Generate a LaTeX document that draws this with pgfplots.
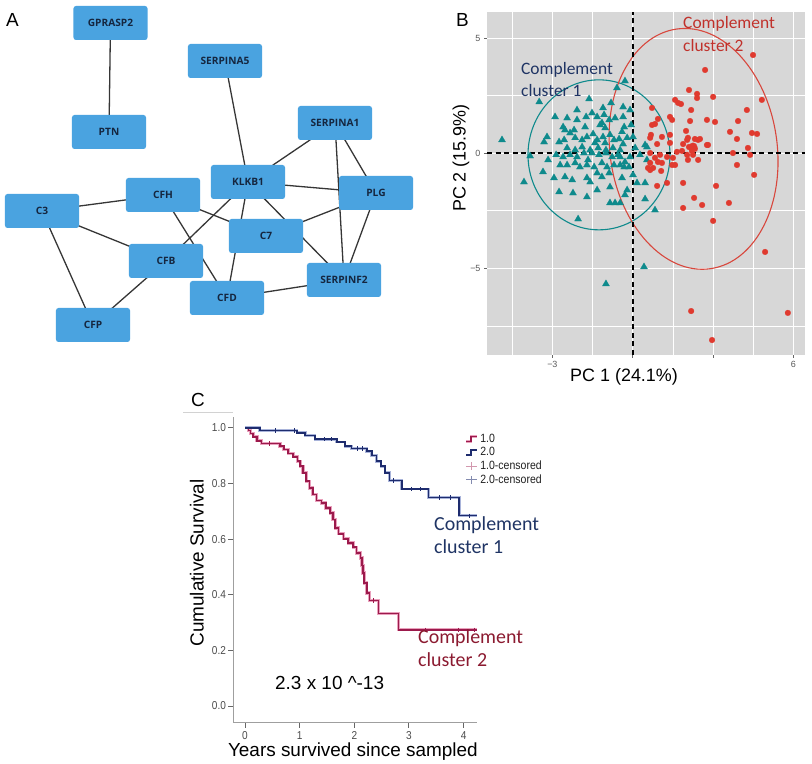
\documentclass[border=0pt]{standalone}
\usepackage{pgfplots}
\pgfplotsset{compat=1.18}
\usepackage{fontspec}
\setmainfont{Liberation Sans}
\newfontfamily\calfont{Carlito}
\newfontfamily\nodefont{Open Sans}
\newfontfamily\narrowfont{Liberation Sans}[FakeStretch=0.88]
\definecolor{nodeblue}{HTML}{4AA3E0}
\definecolor{nodetext}{HTML}{15263F}
\definecolor{edgegray}{HTML}{363636}
\definecolor{teal1}{HTML}{0E8A8C}
\definecolor{red1}{HTML}{E03A2F}
\definecolor{redell}{HTML}{D8473D}
\definecolor{panelgray}{HTML}{D7D7D7}
\definecolor{navy1}{HTML}{1F3464}
\definecolor{maroon1}{HTML}{8B1A30}
\definecolor{kmred}{HTML}{9C1A4C}
\definecolor{kmredhalo}{HTML}{E9A0BC}
\definecolor{kmblue}{HTML}{1E2C6E}
\definecolor{kmbluehalo}{HTML}{A9B4DA}
\definecolor{labred}{HTML}{C0312B}
\pgfplotsset{
  edge/.style={edgegray, line width=1.3bp, forget plot},
  kmredleg/.style={legend image code/.code={
    \draw[kmredhalo, line width=2.6bp] (0bp,-2.5bp) -- (5bp,-2.5bp) -- (5bp,2.5bp) -- (11bp,2.5bp);
    \draw[kmred, line width=1.3bp] (0bp,-2.5bp) -- (5bp,-2.5bp) -- (5bp,2.5bp) -- (11bp,2.5bp);}},
  kmblueleg/.style={legend image code/.code={
    \draw[kmbluehalo, line width=2.6bp] (0bp,-2.5bp) -- (5bp,-2.5bp) -- (5bp,2.5bp) -- (11bp,2.5bp);
    \draw[kmblue, line width=1.3bp] (0bp,-2.5bp) -- (5bp,-2.5bp) -- (5bp,2.5bp) -- (11bp,2.5bp);}},
  kmredcens/.style={legend image code/.code={
    \draw[kmred!45, line width=0.8bp] (0bp,0bp) -- (11bp,0bp);
    \draw[kmred!45, line width=0.8bp] (5.5bp,-4bp) -- (5.5bp,4bp);}},
  kmbluecens/.style={legend image code/.code={
    \draw[kmblue!55, line width=0.8bp] (0bp,0bp) -- (11bp,0bp);
    \draw[kmblue!55, line width=0.8bp] (5.5bp,-4bp) -- (5.5bp,4bp);}},
}
\begin{document}
\begin{tikzpicture}
\path (0bp,0bp) rectangle (812bp,763bp);
%================ Panel A =================
\begin{axis}[at={(0bp,413bp)}, anchor=south west, scale only axis,
  width=420bp, height=350bp, xmin=0, xmax=420, ymin=0, ymax=350,
  y dir=reverse, axis lines=none, clip=false]
\addplot[edge] coordinates {(110.5,23) (109,132)};
\addplot[edge] coordinates {(225,61) (248,182)};
\addplot[edge] coordinates {(335,123) (248,182)};
\addplot[edge] coordinates {(335,123) (376,193)};
\addplot[edge] coordinates {(335,123) (344,280)};
\addplot[edge] coordinates {(248,182) (376,193)};
\addplot[edge] coordinates {(248,182) (227,298)};
\addplot[edge] coordinates {(248,182) (344,280)};
\addplot[edge] coordinates {(248,182) (166,261)};
\addplot[edge] coordinates {(163,195) (266,236)};
\addplot[edge] coordinates {(163,195) (227,298)};
\addplot[edge] coordinates {(42,211) (163,195)};
\addplot[edge] coordinates {(42,211) (166,261)};
\addplot[edge] coordinates {(42,211) (93,325)};
\addplot[edge] coordinates {(166,261) (93,325)};
\addplot[edge] coordinates {(376,193) (266,236)};
\addplot[edge] coordinates {(376,193) (344,280)};
\addplot[edge] coordinates {(227,298) (344,280)};
\addplot[only marks, mark=none, nodes near coords, point meta=explicit symbolic,
  nodes near coords style={anchor=center, rectangle, rounded corners=2.5bp,
    fill=nodeblue, minimum width=74bp, minimum height=34bp, text=nodetext,
    font=\nodefont\bfseries\fontsize{10.2}{11}\selectfont}]
  table[meta=label]{
x y label
110.5 23 GPRASP2
225 61 SERPINA5
109 132 PTN
335 123 SERPINA1
248 182 KLKB1
376 193 PLG
163 195 CFH
42 211 C3
266 236 C7
166 261 CFB
344 280 SERPINF2
227 298 CFD
93 325 CFP
};
\end{axis}
\node[anchor=base west, inner sep=0pt, font=\fontsize{19}{20}\selectfont] at (6bp,736bp) {A};
%================ Panel B =================
\begin{axis}[at={(487bp,408bp)}, anchor=south west, scale only axis,
  width=318bp, height=343bp,
  xmin=-5.44, xmax=6.43, ymin=-8.77, ymax=6.14,
  axis background/.style={fill=panelgray},
  axis line style={draw=none},
  xtick={-3,0,3,6}, xticklabels={{−3},{},{},6},
  ytick={-5,0,5}, yticklabels={{−5},0,5},
  minor xtick={-4.5,-1.5,1.5,4.5}, minor ytick={-7.5,-2.5,2.5},
  grid=both, major grid style={white, line width=1.1bp},
  minor grid style={white, line width=0.5bp},
  tick align=outside, major tick length=3bp, minor tick length=0pt,
  tick style={gray!80!black, line width=0.5bp},
  xtick pos=bottom, ytick pos=left,
  ticklabel style={font=\fontsize{9}{10}\selectfont, text=gray!70!black},
  xlabel={PC 1 (24.1\%)}, ylabel={PC 2 (15.9\%)},
  label style={font=\fontsize{18}{20}\selectfont},
  xlabel style={at={(axis description cs:0.431,-0.064)}, anchor=center},
  ylabel style={at={(axis description cs:-0.082,0.574)}, anchor=center, rotate=0},
]
\addplot[only marks, mark=triangle*, mark size=4.1bp, mark options={fill=teal1, draw=teal1, line width=0.2bp}] table {
x y
-0.29 3.14
-0.59 2.84
-1.63 2.36
-3.49 2.23
-1.11 1.97
-0.81 2.19
-0.36 2.01
-0.10 1.88
-2.08 1.88
-2.90 1.58
-2.45 1.53
-2.08 1.45
-1.74 1.58
-1.52 1.75
-1.33 1.58
-1.07 1.67
-0.88 1.45
-0.66 1.53
-0.36 1.58
-0.06 1.23
-1.15 1.32
-2.60 1.14
-2.53 1.01
-2.19 1.01
-1.78 1.14
-1.22 1.23
-1.03 1.10
-0.32 1.14
-0.40 0.93
-4.88 0.58
-3.20 0.71
-3.31 0.49
-2.75 0.49
-2.56 0.58
-2.34 0.88
-2.15 0.67
-1.89 0.58
-1.71 0.71
-1.48 0.84
-1.33 0.58
-1.11 0.71
-1.03 0.45
-0.85 0.80
-0.70 0.58
-0.51 0.62
-0.36 0.40
-0.21 0.67
0.01 0.71
0.46 0.36
0.53 0.27
-3.83 -0.12
-2.86 -0.07
-2.60 -0.16
-2.34 -0.07
-2.08 -0.16
-1.82 0.01
-1.52 0.01
-1.26 -0.07
-1.00 0.01
-0.77 -0.16
-0.55 -0.07
-2.45 0.23
-2.15 0.14
-1.89 0.27
-1.59 0.14
-1.29 0.23
-1.00 0.14
-0.74 0.23
-0.47 0.14
-2.45 -0.51
-2.15 -0.42
-1.97 -0.60
-1.71 -0.51
-1.44 -0.60
-1.15 -0.42
-0.96 -0.60
-0.70 -0.51
-0.47 -0.51
-0.32 -0.60
-0.14 -0.60
-3.35 -0.81
-4.06 -1.25
-2.94 -1.07
-2.53 -1.03
-2.26 -1.16
-1.71 -1.07
-1.59 -1.25
-1.33 -0.86
-1.15 -1.03
-0.88 -0.86
-0.40 -1.07
-2.75 -1.68
-2.23 -1.73
-1.71 -1.90
-1.33 -1.60
-0.85 -1.47
-0.21 -1.60
-0.85 -2.16
-0.66 -2.16
-0.47 -2.16
-2.04 -2.86
0.42 -4.94
-1.00 -5.68
0.83 -2.47
0.46 -1.99
0.16 -1.29
0.46 -1.29
-0.29 -1.81
0.01 -0.94
0.53 -0.29
-0.29 -0.38
-0.47 -0.16
-1.41 0.45
-1.67 -0.29
-2.71 -0.51
-3.16 -0.29
0.27 -0.07
0.09 0.23
-0.10 -0.16
};
\addplot[only marks, mark=*, mark size=2.9bp, mark options={fill=red1, draw=red1, line width=0.2bp}] table {
x y
4.49 4.27
2.70 3.62
4.82 2.32
2.10 2.75
2.40 2.58
2.40 2.40
3.00 2.45
1.58 2.32
1.69 2.19
1.80 2.14
2.18 1.88
4.26 1.88
0.72 1.97
1.39 1.58
1.47 1.45
0.94 1.49
2.14 1.40
2.77 1.45
3.07 1.36
3.93 1.40
0.72 1.23
0.83 1.27
1.99 0.97
3.63 0.93
4.45 0.88
4.64 0.84
3.89 0.62
0.68 0.80
0.65 0.67
1.09 0.71
1.39 0.80
2.06 0.67
2.32 0.62
2.51 0.62
2.81 0.36
1.88 0.40
2.10 0.27
2.25 0.27
2.32 0.19
2.21 0.10
4.30 0.23
1.65 0.06
1.84 0.10
3.74 0.01
2.03 -0.07
2.25 -0.07
0.65 0.01
0.83 -0.20
1.02 -0.07
0.65 -0.42
0.94 -0.38
1.09 -0.42
1.50 -0.20
1.58 -0.51
2.06 -0.29
2.44 -0.29
4.38 -0.07
3.89 -0.51
4.53 -0.94
0.57 -0.64
0.65 -0.73
1.06 -0.77
0.91 -1.42
1.28 -1.29
1.88 -1.29
3.11 -1.42
2.29 -1.94
2.59 -2.25
1.88 -2.38
3.59 -2.16
3.00 -2.94
4.94 -4.29
2.18 -6.86
5.79 -6.94
2.96 -8.12
0.91 0.40
1.39 0.45
2.03 0.58
2.44 0.58
2.77 0.36
0.76 -0.64
1.28 -0.16
1.47 -0.51
};
\addplot[only marks, mark=*, mark size=4.2bp, mark options={fill=red1, draw=red1}] coordinates {(2.25,0.27)};
\draw[teal1, line width=1.1bp] (axis cs:-1.26,-0.07) ellipse [x radius=2.65, y radius=3.26];
\draw[redell, line width=1.1bp, rotate around={8:(axis cs:2.27,0.19)}] (axis cs:2.27,0.19) ellipse [x radius=3.12, y radius=5.26];
\addplot[black, line width=1.9bp, dash pattern=on 5bp off 3.5bp] coordinates {(0,-8.77) (0,6.14)};
\addplot[black, line width=1.9bp, dash pattern=on 5bp off 3.5bp] coordinates {(-5.44,0) (6.43,0)};
\end{axis}
\node[anchor=base west, inner sep=0pt, font=\fontsize{19}{20}\selectfont] at (456bp,736bp) {B};
\node[anchor=base west, inner sep=0pt, text=labred, font=\calfont\fontsize{17.5}{20}\selectfont] at (683bp,734bp) {Complement};
\node[anchor=base west, inner sep=0pt, text=labred, font=\calfont\fontsize{17.5}{20}\selectfont] at (683bp,711bp) {cluster 2};
\node[anchor=base west, inner sep=0pt, text=navy1, font=\calfont\fontsize{17.5}{20}\selectfont] at (521bp,688bp) {Complement};
\node[anchor=base west, inner sep=0pt, text=navy1, font=\calfont\fontsize{17.5}{20}\selectfont] at (521bp,666bp) {cluster 1};
%================ Panel C =================
\draw[gray!35, line width=0.6bp] (183bp,351bp) -- (233bp,351bp);
\begin{axis}[at={(233bp,40.3bp)}, anchor=south west, scale only axis,
  width=243.7bp, height=306bp,
  xmin=-0.22, xmax=4.24, ymin=-0.06, ymax=1.04,
  axis x line*=bottom, axis y line*=left,
  axis line style={gray!75, line width=0.9bp},
  xtick={0,1,2,3,4}, xticklabels={0,1,2,3,4},
  ytick={0,0.2,0.4,0.6,0.8,1}, yticklabels={0.0,0.2,0.4,0.6,0.8,1.0},
  tick align=outside, major tick length=5bp,
  tick style={gray!80!black, line width=0.9bp},
  ticklabel style={font=\narrowfont\fontsize{11.5}{12}\selectfont, text=gray!60!black},
  yticklabel style={xshift=1.5bp},
  xlabel={Years survived since sampled}, ylabel={Cumulative Survival},
  label style={font=\fontsize{19}{21}\selectfont},
  xlabel style={at={(axis description cs:0.492,-0.095)}, anchor=center},
  ylabel style={at={(axis description cs:-0.148,0.522)}, anchor=center, rotate=0},
  clip=false,
  legend style={at={(rel axis cs:0.95,0.95)}, anchor=north west, draw=none, fill=none,
    font=\narrowfont\fontsize{12}{12.5}\selectfont, text=gray!25!black,
    inner sep=0pt, row sep=-0.5bp},
  legend cell align=left,
]
\addplot[const plot, kmredhalo, line width=3.2bp, forget plot] table {
x y
0 1.0
0.06 0.99
0.10 0.98
0.15 0.968
0.22 0.953
0.30 0.943
0.64 0.934
0.71 0.922
0.79 0.908
0.88 0.896
0.96 0.880
1.01 0.862
1.06 0.838
1.12 0.808
1.18 0.784
1.24 0.760
1.31 0.739
1.40 0.730
1.48 0.712
1.56 0.694
1.61 0.670
1.65 0.640
1.71 0.619
1.80 0.601
1.89 0.586
1.98 0.571
2.04 0.550
2.11 0.532
2.14 0.505
2.16 0.478
2.18 0.442
2.23 0.406
2.28 0.379
2.44 0.332
2.81 0.274
4.24 0.274
};
\addplot[const plot, kmred, line width=1.6bp, forget plot] table {
x y
0 1.0
0.06 0.99
0.10 0.98
0.15 0.968
0.22 0.953
0.30 0.943
0.64 0.934
0.71 0.922
0.79 0.908
0.88 0.896
0.96 0.880
1.01 0.862
1.06 0.838
1.12 0.808
1.18 0.784
1.24 0.760
1.31 0.739
1.40 0.730
1.48 0.712
1.56 0.694
1.61 0.670
1.65 0.640
1.71 0.619
1.80 0.601
1.89 0.586
1.98 0.571
2.04 0.550
2.11 0.532
2.14 0.505
2.16 0.478
2.18 0.442
2.23 0.406
2.28 0.379
2.44 0.332
2.81 0.274
4.24 0.274
};
\addplot[const plot, kmbluehalo, line width=2.8bp, forget plot] table {
x y
0 1.0
0.27 0.99
0.95 0.982
1.10 0.972
1.28 0.959
1.68 0.949
1.83 0.934
1.95 0.925
2.23 0.916
2.32 0.901
2.41 0.880
2.49 0.862
2.56 0.838
2.64 0.811
2.87 0.780
3.36 0.750
3.92 0.684
4.24 0.684
};
\addplot[const plot, kmblue, line width=1.5bp, forget plot] table {
x y
0 1.0
0.27 0.99
0.95 0.982
1.10 0.972
1.28 0.959
1.68 0.949
1.83 0.934
1.95 0.925
2.23 0.916
2.32 0.901
2.41 0.880
2.49 0.862
2.56 0.838
2.64 0.811
2.87 0.780
3.36 0.750
3.92 0.684
4.24 0.684
};
\addplot[only marks, mark=|, mark size=2.2bp, kmblue, line width=0.7bp, forget plot] coordinates {
(0.55,0.99) (0.90,0.99) (1.45,0.959) (1.58,0.959) (2.05,0.925) (2.14,0.925) (2.72,0.811) (3.05,0.780) (3.20,0.780) (3.55,0.750) (3.75,0.750) (4.10,0.684)};
\addplot[only marks, mark=|, mark size=2.2bp, kmred, line width=0.7bp, forget plot] coordinates {
(0.45,0.943) (2.35,0.379) (3.30,0.274) (3.90,0.274) (4.20,0.274)};
\addlegendimage{kmredleg}
\addlegendimage{kmblueleg}
\addlegendimage{kmredcens}
\addlegendimage{kmbluecens}
\legend{1.0,2.0,1.0-censored,2.0-censored}
\end{axis}
\node[anchor=base west, inner sep=0pt, font=\fontsize{19}{20}\selectfont] at (191bp,356bp) {C};
\node[anchor=base west, inner sep=0pt, text=navy1, font=\calfont\fontsize{20}{22}\selectfont] at (434bp,232bp) {Complement};
\node[anchor=base west, inner sep=0pt, text=navy1, font=\calfont\fontsize{20}{22}\selectfont] at (434bp,209bp) {cluster 1};
\node[anchor=base west, inner sep=0pt, text=maroon1, font=\calfont\fontsize{20}{22}\selectfont] at (418bp,119bp) {Complement};
\node[anchor=base west, inner sep=0pt, text=maroon1, font=\calfont\fontsize{20}{22}\selectfont] at (418bp,96.3bp) {cluster 2};
\node[anchor=base west, inner sep=0pt, font=\fontsize{19}{21}\selectfont] at (275bp,73bp) {2.3 x 10 \^{}-13};
\end{tikzpicture}
\end{document}
